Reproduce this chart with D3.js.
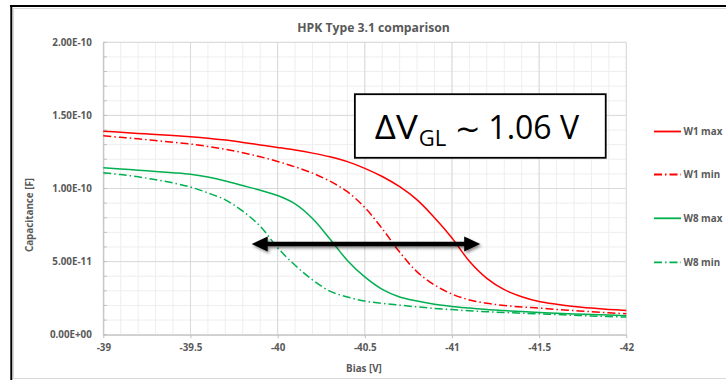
<!DOCTYPE html>
<html>
<head>
<meta charset="utf-8">
<script src="https://cdn.jsdelivr.net/npm/d3@7"></script>
<style>
  html, body { margin: 0; padding: 0; background: #fff; }
  svg { display: block; }
</style>
</head>
<body>
<svg id="chart" width="726" height="380"></svg>
<script>
// Bias sweep points [V]
const biasV = [-39.0, -39.1, -39.2, -39.3, -39.4, -39.5, -39.6, -39.7, -39.8, -39.9,
               -40.0, -40.1, -40.2, -40.3, -40.4, -40.5, -40.6, -40.7, -40.8, -40.9,
               -41.0, -41.1, -41.2, -41.3, -41.4, -41.5, -41.6, -41.7, -41.8, -41.9, -42.0];

// Capacitance values, in units of 1E-11 F
const w1Max = [13.92, 13.85, 13.77, 13.69, 13.62, 13.54, 13.44, 13.31, 13.15, 12.98,
               12.81, 12.63, 12.42, 12.17, 11.84, 11.38, 10.82, 10.12, 9.22, 8.00,
               6.62, 5.02, 3.85, 3.08, 2.60, 2.27, 2.08, 1.93, 1.82, 1.73, 1.66];
const w1Min = [13.60, 13.50, 13.40, 13.28, 13.16, 13.04, 12.88, 12.68, 12.45, 12.17,
               11.85, 11.48, 11.05, 10.50, 9.78, 8.70, 7.25, 5.65, 4.30, 3.40,
               2.78, 2.38, 2.15, 2.00, 1.90, 1.82, 1.73, 1.65, 1.57, 1.50, 1.43];
const w8Max = [11.42, 11.34, 11.25, 11.17, 11.08, 10.97, 10.78, 10.52, 10.20, 9.88,
               9.52, 8.95, 7.95, 6.55, 5.08, 3.95, 3.10, 2.58, 2.30, 2.08,
               1.93, 1.82, 1.72, 1.65, 1.58, 1.52, 1.47, 1.42, 1.38, 1.34, 1.30];
const w8Min = [11.08, 10.95, 10.80, 10.60, 10.38, 10.10, 9.70, 9.22, 8.45, 7.42,
               5.95, 4.75, 3.75, 2.98, 2.58, 2.30, 2.15, 2.02, 1.90, 1.80,
               1.72, 1.63, 1.57, 1.52, 1.47, 1.43, 1.38, 1.33, 1.28, 1.24, 1.21];
const UNIT = 1e-11;

const seriesNames  = ["W1 max", "W1 min", "W8 max", "W8 min"];
const seriesValues = [w1Max, w1Min, w8Max, w8Min];
const seriesColors = ["#FF0000", "#FF0000", "#00B050", "#00B050"];
const seriesDashed = [false, true, false, true];

// Axis ticks
const xTicks = [-39, -39.5, -40, -40.5, -41, -41.5, -42];
const yTicks = [0, 5e-11, 1e-10, 1.5e-10, 2e-10];

// Annotation: voltage shift call-out and its double arrow
const shiftLabel = { main: "ΔV", sub: "GL", tilde: "~", rest: "1.06 V" };
const shiftBox = { x0: -40.443, x1: -41.882, y0: 16.45e-11, y1: 12.1e-11 };
const arrowSpan = { from: -39.851, to: -41.162, level: 6.2e-11 };

const svg = d3.select("#chart");
const W = 726, H = 380;
const plot = { left: 103.3, right: 626.3, top: 42.3, bottom: 334.7 };

const x = d3.scaleLinear().domain([-39, -42]).range([plot.left, plot.right]);
const y = d3.scaleLinear().domain([0, 2e-10]).range([plot.bottom, plot.top]);

const txtGray = "#595959";
const font = "'Open Sans', 'DejaVu Sans', sans-serif";
const small = "9.8px";

// Outer frame: chart border and black edge
svg.append("rect").attr("x", 13.5).attr("y", 8.5).attr("width", 730).attr("height", 370)
  .attr("fill", "#fff").attr("stroke", "#D9D9D9").attr("stroke-width", 1);
svg.append("line").attr("x1", 10).attr("x2", W).attr("y1", 6).attr("y2", 6)
  .attr("stroke", "#000").attr("stroke-width", 2);
svg.append("line").attr("x1", 11.3).attr("x2", 11.3).attr("y1", 5).attr("y2", H)
  .attr("stroke", "#000").attr("stroke-width", 2);

// Gridlines
const grid = svg.append("g");
const xMinor = d3.range(0, 31).map(i => -39 - i * 0.1);
const yMinor = d3.range(0, 21).map(i => i * 1e-11);
grid.selectAll(".xm").data(xMinor).join("line")
  .attr("x1", d => x(d)).attr("x2", d => x(d))
  .attr("y1", plot.top).attr("y2", plot.bottom)
  .attr("stroke", "#EEEEEE").attr("stroke-width", 1);
grid.selectAll(".ym").data(yMinor).join("line")
  .attr("y1", d => y(d)).attr("y2", d => y(d))
  .attr("x1", plot.left).attr("x2", plot.right)
  .attr("stroke", "#EEEEEE").attr("stroke-width", 1);
grid.selectAll(".xM").data(xTicks).join("line")
  .attr("x1", d => x(d)).attr("x2", d => x(d))
  .attr("y1", plot.top).attr("y2", plot.bottom)
  .attr("stroke", "#D9D9D9").attr("stroke-width", 1);
grid.selectAll(".yM").data(yTicks).join("line")
  .attr("y1", d => y(d)).attr("y2", d => y(d))
  .attr("x1", plot.left).attr("x2", plot.right)
  .attr("stroke", "#D9D9D9").attr("stroke-width", 1);

// Exponent formatter: 2.00E-10, 0.00E+00
function sci(v) {
  if (v === 0) return "0.00E+00";
  const s = d3.format(".2e")(v);
  const [m, e] = s.split("e");
  const sign = e[0] === "-" ? "-" : "+";
  const digits = e.replace(/^[+-]/, "").padStart(2, "0");
  return m + "E" + sign + digits;
}

// Y axis
const yAxis = svg.append("g").attr("transform", `translate(${plot.left},0)`)
  .call(d3.axisLeft(y).tickValues(yTicks).tickFormat(sci).tickSize(0).tickPadding(11.5));
yAxis.select(".domain").attr("stroke", "#BFBFBF");
yAxis.selectAll("text").attr("font-family", font).attr("font-weight", "bold")
  .attr("font-size", small).attr("fill", txtGray);
yAxis.selectAll(".minor").data(yMinor).join("line").attr("class", "minor")
  .attr("x1", 0).attr("x2", 3.5).attr("y1", d => y(d)).attr("y2", d => y(d))
  .attr("stroke", "#BFBFBF");

// X axis
const xAxis = svg.append("g").attr("transform", `translate(0,${plot.bottom})`)
  .call(d3.axisBottom(x).tickValues(xTicks).tickFormat(d => String(d)).tickSize(3.5).tickSizeOuter(0).tickPadding(6));
xAxis.select(".domain").attr("stroke", "#BFBFBF");
xAxis.selectAll(".tick line").attr("stroke", "#BFBFBF");
xAxis.selectAll("text").attr("font-family", font).attr("font-weight", "bold")
  .attr("font-size", small).attr("fill", txtGray);

// Titles
svg.append("text").attr("x", 373.5).attr("y", 31.5).attr("text-anchor", "middle")
  .attr("font-family", font).attr("font-weight", "bold").attr("font-size", "12.2px")
  .attr("fill", txtGray).text("HPK Type 3.1 comparison");
svg.append("text").attr("x", 364).attr("y", 372).attr("text-anchor", "middle")
  .attr("font-family", font).attr("font-weight", "bold").attr("font-size", small)
  .attr("fill", txtGray).text("Bias [V]");
svg.append("text").attr("transform", "translate(32.5,215) rotate(-90)").attr("text-anchor", "middle")
  .attr("font-family", font).attr("font-weight", "bold").attr("font-size", small)
  .attr("fill", txtGray).text("Capacitance [F]");

// Curves
const dashDot = "8,3,1.5,3";
const line = d3.line()
  .x((d, i) => x(biasV[i]))
  .y(d => y(d * UNIT))
  .curve(d3.curveCatmullRom.alpha(0.5));
const curves = svg.append("g");
seriesValues.forEach((vals, k) => {
  curves.append("path").datum(vals)
    .attr("d", line)
    .attr("fill", "none")
    .attr("stroke", seriesColors[k])
    .attr("stroke-width", 1.5)
    .attr("stroke-dasharray", seriesDashed[k] ? dashDot : null);
});

// Legend
const legend = svg.append("g");
const legendY = [131.5, 174.5, 218.3, 262.3];
seriesNames.forEach((name, k) => {
  const g = legend.append("g").attr("transform", `translate(0,${legendY[k]})`);
  g.append("line").attr("x1", 654).attr("x2", 681).attr("y1", 0).attr("y2", 0)
    .attr("stroke", seriesColors[k]).attr("stroke-width", 1.8)
    .attr("stroke-dasharray", seriesDashed[k] ? dashDot : null);
  g.append("text").attr("x", 683.5).attr("y", 3.5)
    .attr("font-family", font).attr("font-weight", "bold").attr("font-size", small)
    .attr("fill", txtGray).text(name);
});

// Drop shadow for the arrow
const defs = svg.append("defs");
const f = defs.append("filter").attr("id", "shadow").attr("x", "-10%").attr("y", "-100%")
  .attr("width", "120%").attr("height", "300%");
f.append("feDropShadow").attr("dx", 1.5).attr("dy", 2).attr("stdDeviation", 1.4)
  .attr("flood-color", "#000").attr("flood-opacity", 0.45);

// Double arrow
const ax0 = x(arrowSpan.from), ax1 = x(arrowSpan.to), ay = y(arrowSpan.level);
const headL = 16, headH = 7.5;
const arrow = svg.append("g").attr("filter", "url(#shadow)");
arrow.append("line").attr("x1", ax0 + headL - 2).attr("x2", ax1 - headL + 2)
  .attr("y1", ay).attr("y2", ay).attr("stroke", "#000").attr("stroke-width", 4.5);
arrow.append("path")
  .attr("d", `M${ax0},${ay} L${ax0 + headL},${ay - headH} L${ax0 + headL},${ay + headH} Z`)
  .attr("fill", "#000");
arrow.append("path")
  .attr("d", `M${ax1},${ay} L${ax1 - headL},${ay - headH} L${ax1 - headL},${ay + headH} Z`)
  .attr("fill", "#000");

// Shift call-out box
const bx0 = x(shiftBox.x0), bx1 = x(shiftBox.x1), by0 = y(shiftBox.y0), by1 = y(shiftBox.y1);
svg.append("rect").attr("x", bx0).attr("y", by0).attr("width", bx1 - bx0).attr("height", by1 - by0)
  .attr("fill", "#fff").attr("stroke", "#000").attr("stroke-width", 1.8);
const base = by0 + 44.5;
const lbl = svg.append("text").attr("font-family", font).attr("fill", "#000");
lbl.append("tspan").attr("x", bx0 + 20).attr("y", base).attr("font-size", "32px")
  .attr("textLength", 43).attr("lengthAdjust", "spacingAndGlyphs").text(shiftLabel.main);
lbl.append("tspan").attr("x", bx0 + 64).attr("y", base + 7).attr("font-size", "22px")
  .text(shiftLabel.sub);
lbl.append("tspan").attr("x", bx0 + 100).attr("y", base).attr("font-size", "31px")
  .attr("font-family", "'DejaVu Sans', sans-serif").text(shiftLabel.tilde);
lbl.append("tspan").attr("x", bx0 + 133.5).attr("y", base).attr("font-size", "32px")
  .text(shiftLabel.rest);
</script>
</body>
</html>
